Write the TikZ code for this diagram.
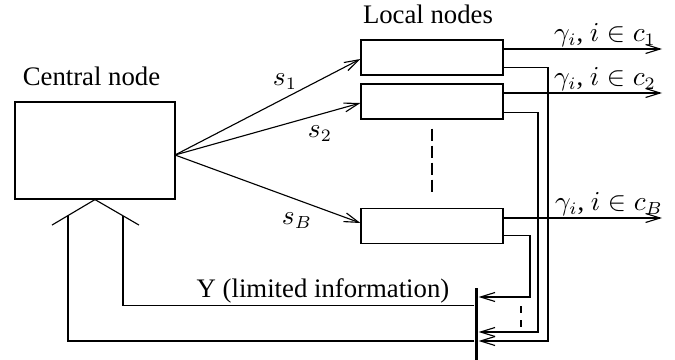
\documentclass[tikz,border=0pt]{standalone}
\usepackage[no-math]{fontspec}
\setmainfont{Liberation Serif}
\usetikzlibrary{arrows.meta,calc}
\tikzset{
  ln/.style={line width=0.45pt},
  arr/.style={ln,-{Straight Barb[length=5.8pt,width=3.6pt]}},
  boxc/.style={draw,ln,inner sep=0pt,minimum width=64pt,minimum height=38.8pt},
  boxl/.style={draw,ln,inner sep=0pt,minimum width=56.8pt,minimum height=14pt},
  lbl/.style={inner sep=0pt,anchor=base},
}
\begin{document}
\begin{tikzpicture}[x=0.4pt,y=-0.4pt,font=\fontsize{10.7}{13}\selectfont]
\useasboundingbox (0,0) rectangle (675,360);
% nodes
\node[boxc] (cn) at (95,150.5) {};
\node[boxl] (l1) at (432,57.5) {};
\node[boxl] (l2) at (432,101.5) {};
\node[boxl] (lB) at (432,226) {};
\node[fill=black,inner sep=0pt,minimum width=1.3pt,minimum height=28.8pt] (bar) at (476.5,324) {};
% titles
\node[lbl] (tc) at (91.5,86) {Central node};
\node[lbl] (tl) at (428,23) {Local nodes};
\node[lbl] (ty) at (323,297) {Y (limited information)};
% fan
\coordinate (fan) at (175,155);
\draw[arr] (fan) -- ($(l1.west)+(0,1.5)$);
\draw[arr] (fan) -- ($(l2.west)+(0,1.5)$);
\draw[arr] (fan) -- ($(lB.west)+(0,-3)$);
\node (s1) at (285,82) {$s_1$};
\node (s2) at (320,134) {$s_2$};
\node (sB) at (297,221) {$s_B$};
% outputs
\coordinate (o1) at (662,49);
\coordinate (o2) at (662,93);
\coordinate (oB) at (662,218);
\draw[arr] (l1.east |- o1) -- (o1);
\draw[arr] (l2.east |- o2) -- (o2);
\draw[arr] (lB.east |- oB) -- (oB);
\node[lbl] (g1) at (605,41) {$\gamma_i$, $i\in c_1$};
\node[lbl] (g2) at (605,85) {$\gamma_i$, $i\in c_2$};
\node[lbl] (gB) at (609,210) {$\gamma_i$, $i\in c_B$};
% dashed between local nodes
\draw[ln,dash pattern=on 4.8pt off 2pt] ($(l2.south)+(0,9)$) -- ($(lB.north)+(0,-16)$);
% feedback
\coordinate (f1) at (548,341);
\coordinate (f2) at (538,332);
\coordinate (fB) at (530,297);
\draw[arr] ($(l1.south east)+(0,-8)$) -| (f1) -- (bar.east |- f1);
\draw[arr] ($(l2.south east)+(0,-7)$) -| (f2) -- (bar.east |- f2);
\draw[arr] ($(lB.south east)+(0,-9)$) -| (fB) -- (bar.east |- fB);
\draw[ln,dash pattern=on 2.8pt off 2.8pt] (521,306) -- (521,328);
% chevron at central node
\coordinate (chL) at ($(cn.south)+(-43,25.5)$);
\coordinate (chR) at ($(cn.south)+(44,25.5)$);
\draw[ln] (chL) -- (cn.south) -- (chR);
\coordinate (cL) at (68,216);
\coordinate (cR) at (123,216);
\coordinate (yl) at (0,305.5);
\draw[ln] (bar.west |- f1) -| (cL);
\draw[ln] (bar.west |- yl) -| (cR);
\end{tikzpicture}
\end{document}
